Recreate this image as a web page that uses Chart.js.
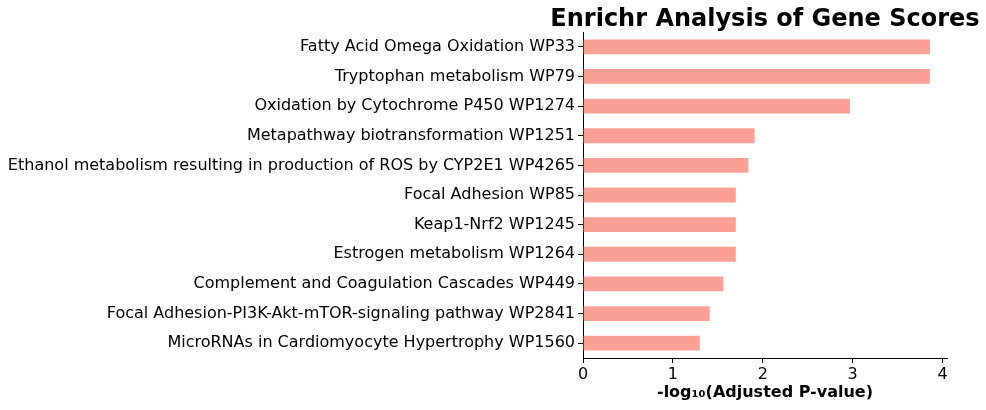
<!DOCTYPE html>
<html>
<head>
<meta charset="utf-8">
<script src="https://cdn.jsdelivr.net/npm/chart.js@4"></script>
<style>
  html, body { margin: 0; padding: 0; background: #fff; }
  #wrap { width: 986px; height: 410px; position: relative; }
</style>
</head>
<body>
<div id="wrap"><canvas id="chart"></canvas></div>
<script>
const pathways = [
  'Fatty Acid Omega Oxidation WP33',
  'Tryptophan metabolism WP79',
  'Oxidation by Cytochrome P450 WP1274',
  'Metapathway biotransformation WP1251',
  'Ethanol metabolism resulting in production of ROS by CYP2E1 WP4265',
  'Focal Adhesion WP85',
  'Keap1-Nrf2 WP1245',
  'Estrogen metabolism WP1264',
  'Complement and Coagulation Cascades WP449',
  'Focal Adhesion-PI3K-Akt-mTOR-signaling pathway WP2841',
  'MicroRNAs in Cardiomyocyte Hypertrophy WP1560'
];
const scores = [3.86, 3.86, 2.97, 1.91, 1.84, 1.70, 1.70, 1.70, 1.56, 1.41, 1.30];
const xTicks = [0, 1, 2, 3, 4];
const chartTitle = 'Enrichr Analysis of Gene Scores';

const FONT = '"DejaVu Sans", sans-serif';
Chart.defaults.font.family = FONT;
Chart.defaults.color = '#000';

// title centred over the axes, like matplotlib, without Chart.js squeezing it
const axesTitle = {
  id: 'axesTitle',
  afterDraw(chart) {
    const { ctx, chartArea } = chart;
    ctx.save();
    ctx.font = 'bold 24px ' + FONT;
    ctx.fillStyle = '#000';
    ctx.textAlign = 'center';
    ctx.textBaseline = 'alphabetic';
    ctx.fillText(chartTitle, (chartArea.left + chartArea.right) / 2, 26);
    ctx.restore();
  }
};

const ctx = document.getElementById('chart').getContext('2d');
new Chart(ctx, {
  type: 'bar',
  data: {
    labels: pathways,
    datasets: [{
      label: 'score',
      data: scores,
      backgroundColor: 'rgba(250, 128, 114, 0.75)',
      borderWidth: 0,
      barPercentage: 0.5,
      categoryPercentage: 1
    }]
  },
  options: {
    indexAxis: 'y',
    responsive: true,
    maintainAspectRatio: false,
    animation: false,
    layout: { padding: { top: 32, right: 39, bottom: 0, left: 0 } },
    plugins: {
      legend: { display: false },
      tooltip: { enabled: false },
      title: { display: false }
    },
    scales: {
      y: {
        grid: { drawOnChartArea: false, offset: false, tickLength: 5, color: '#000', lineWidth: 1 },
        border: { display: true, color: '#000', width: 1 },
        ticks: { font: { size: 16 }, color: '#000', padding: 3, autoSkip: false },
        afterFit: (s) => { s.width = 583; }
      },
      x: {
        min: 0,
        max: 4.05,
        afterBuildTicks: (s) => { s.ticks = xTicks.map(v => ({ value: v })); },
        grid: { drawOnChartArea: false, tickLength: 5, color: '#000', lineWidth: 1 },
        border: { display: true, color: '#000', width: 1 },
        ticks: { font: { size: 16 }, color: '#000', padding: 2, maxRotation: 0 },
        title: {
          display: true,
          text: '-log\u2081\u2080(Adjusted P-value)',
          font: { size: 16, weight: 'bold' },
          color: '#000',
          padding: { top: 0, bottom: 8 }
        },
        afterFit: (s) => { s.height = 52; }
      }
    }
  },
  plugins: [axesTitle]
});
</script>
</body>
</html>
